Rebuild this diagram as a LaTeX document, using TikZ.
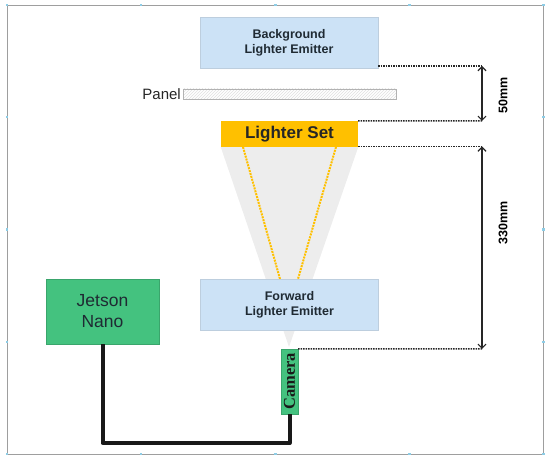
\documentclass[tikz,border=0pt]{standalone}
\usepackage{fontspec}
\setmainfont{Liberation Sans}
\newfontfamily\camfont{Liberation Serif}
\usetikzlibrary{patterns,backgrounds,arrows.meta}
\definecolor{emitblue}{HTML}{CCE2F6}
\definecolor{setorange}{HTML}{FFC000}
\definecolor{jgreen}{HTML}{44C27F}
\definecolor{conegray}{HTML}{EDEDED}
\definecolor{handle}{HTML}{8ECDE6}
\definecolor{darktxt}{HTML}{1F2A33}
\tikzset{
  emitter/.style={rectangle, fill=emitblue, draw=emitblue!80!gray, line width=0.3pt, minimum width=178pt, minimum height=51pt, align=center, font=\bfseries\fontsize{12.5}{15}\selectfont, text=darktxt, inner sep=0pt},
  setbox/.style={rectangle, fill=setorange, minimum width=137pt, minimum height=26pt, font=\bfseries\fontsize{17}{19}\selectfont, text=black!85, inner sep=0pt},
  greenbox/.style={rectangle, fill=jgreen, draw=jgreen!85!black, line width=0.3pt, inner sep=0pt},
  dimline/.style={densely dotted, line width=1.5pt, black!85},
  dimarrow/.style={line width=1.2pt, black!85, {Straight Barb[length=4pt,width=8pt]}-{Straight Barb[length=4pt,width=8pt]}},
  raydots/.style={densely dotted, line width=2pt, setorange},
  cable/.style={line width=4pt, black!90, line join=round},
  dimlabel/.style={rotate=90, font=\bfseries\fontsize{12.5}{14}\selectfont, inner sep=0pt},
  hdot/.style={fill=handle, minimum size=2.5pt, inner sep=0pt, rectangle},
}
\begin{document}
\begin{tikzpicture}[x=1pt,y=-1pt]
\useasboundingbox (0,0) rectangle (550,462);
% frame
\draw[draw=black!38, line width=0.9pt] (7,5) rectangle (543.5,454);
\foreach \hx in {7,141,275.5,409.5,543.5}{
  \node[hdot] (ht\hx) at (\hx,5) {};
  \node[hdot] (hb\hx) at (\hx,454) {};
}
\foreach \hy in {117,229.5,342}{
  \node[hdot] (hl\hy) at (7,\hy) {};
  \node[hdot] (hr\hy) at (543.5,\hy) {};
}
% boxes
\node[emitter] (bg) at (289,42.5) {Background\\Lighter Emitter};
\node[anchor=east, font=\fontsize{15}{17}\selectfont, text=black!85, inner sep=1pt] (panellbl) at (182,94) {Panel};
\draw[draw=black!30, line width=0.6pt, pattern=north east lines, pattern color=black!12] (183,89) rectangle (396,99);
\node[setbox] (ls) at (289.5,134) {Lighter Set};
\node[emitter] (fw) at (289.5,304.5) {Forward\\Lighter Emitter};
\node[greenbox, minimum width=17pt, minimum height=65pt] (cam) at (289.5,381.5) {};
\node[rotate=90, font=\camfont\bfseries\fontsize{16.5}{18}\selectfont, text=black!90, inner sep=0pt] (camlbl) at (cam.center) {Camera};
\node[greenbox, minimum width=113pt, minimum height=65pt, align=center, font=\fontsize{17.5}{21}\selectfont, text=darktxt] (jn) at (102.5,311.5) {Jetson\\Nano};
\coordinate (apex) at (289,347);
% cone and rays behind
\begin{scope}[on background layer]
  \fill[conegray] (ls.south west) -- (ls.south east) -- (apex) -- cycle;
\end{scope}
\coordinate (r1a) at (243,147);
\coordinate (r1b) at (280,279);
\coordinate (r2a) at (336,147);
\coordinate (r2b) at (298,279);
\begin{scope}[on background layer]
  \draw[raydots] (r1a) -- (r1b);
  \draw[raydots] (r2a) -- (r2b);
\end{scope}
% cable
\draw[cable] (jn.south) -- (jn.south |- 0,443) -| (cam.south);
% dimensions
\coordinate (d1) at (482,66);
\coordinate (d2) at (482,121);
\coordinate (d3) at (482,146.5);
\coordinate (d4) at (482,349);
\draw[dimline] (bg.south east |- d1) -- (d1);
\draw[dimline] (ls.north east) -- (d2);
\draw[dimline] (ls.south east |- d3) -- (d3);
\draw[dimline] (cam.north east) -- (d4);
\draw[dimarrow] (d1) -- (d2);
\draw[dimarrow] (d3) -- (d4);
\node[dimlabel] (l50) at (503,95) {50mm};
\node[dimlabel] (l330) at (503,223) {330mm};
\end{tikzpicture}
\end{document}
